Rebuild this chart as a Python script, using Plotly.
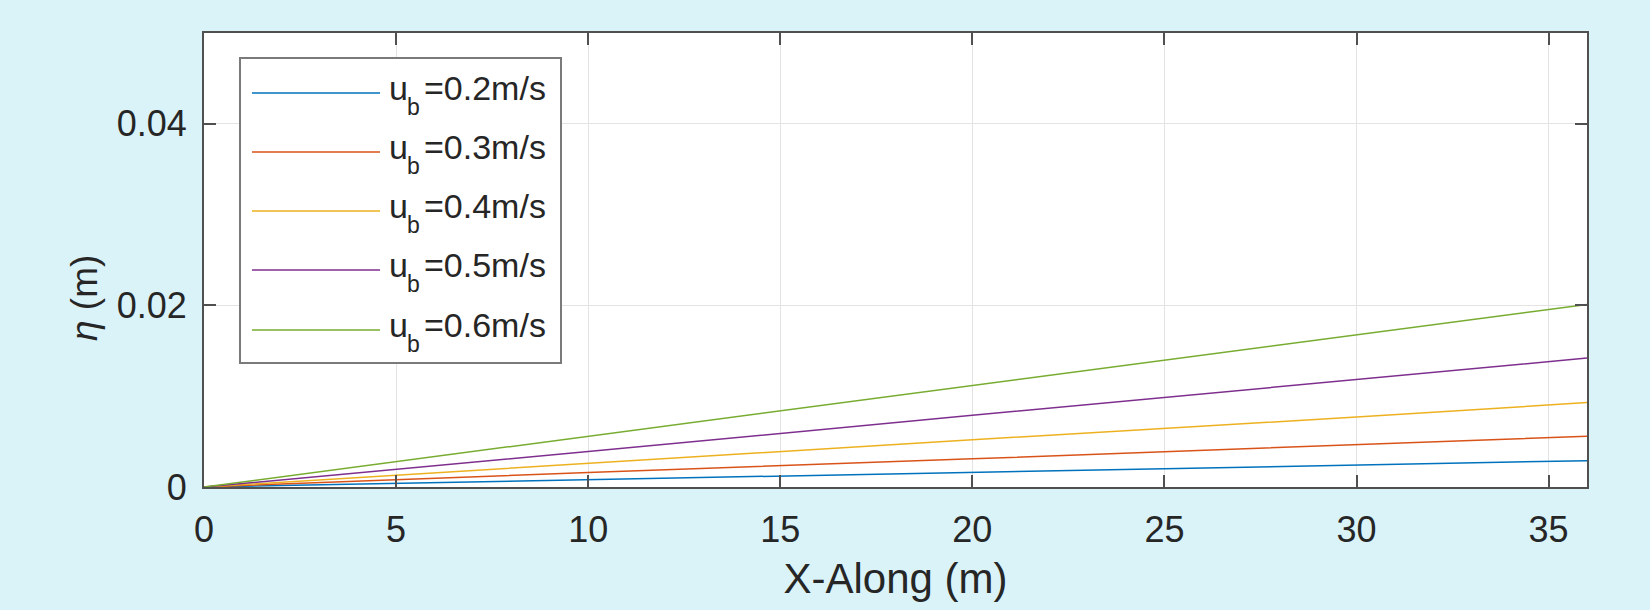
import plotly.graph_objects as go

# ---- data ----
x_along = [0, 10, 20, 30, 36]
eta_02 = [0, 0.0008, 0.0016, 0.0024, 0.0029]
eta_03 = [0, 0.0016, 0.0031, 0.0047, 0.0056]
eta_04 = [0, 0.0026, 0.0052, 0.0077, 0.0093]
eta_05 = [0, 0.0039, 0.0079, 0.0118, 0.0142]
eta_06 = [0, 0.0056, 0.0112, 0.0168, 0.0201]
speed_labels = ["=0.2m/s", "=0.3m/s", "=0.4m/s", "=0.5m/s", "=0.6m/s"]
series_values = [eta_02, eta_03, eta_04, eta_05, eta_06]
colors = ["#0072BD", "#D95319", "#EDB120", "#7E2F8E", "#77AC30"]
x_ticks = [0, 5, 10, 15, 20, 25, 30, 35]
y_ticks = [0, 0.02, 0.04]

W, H = 1650, 610
L, R, T, B = 204, 63, 33, 123
PW, PH = W - L - R, H - T - B
FONT = "Liberation Sans, Arial"
TXT = "#262626"


def px_x(p):
    return (p - L) / PW


def px_y(p):
    return (H - B - p) / PH


fig = go.Figure()
for lab, vals, c in zip(speed_labels, series_values, colors):
    fig.add_trace(go.Scatter(x=x_along, y=vals, mode="lines", name="u_b" + lab,
                             line=dict(color=c, width=1.5), showlegend=False))

axis_common = dict(showline=True, linecolor="#505050", linewidth=2, mirror="allticks",
                   ticks="inside", ticklen=12, tickwidth=2, tickcolor="#505050",
                   showgrid=True, gridcolor="#E3E3E3", gridwidth=1, zeroline=False,
                   tickfont=dict(family=FONT, size=36, color=TXT))

fig.update_layout(
    width=W, height=H,
    margin=dict(l=L, r=R, t=T, b=B),
    paper_bgcolor="#DAF3F8", plot_bgcolor="white",
    xaxis=dict(range=[0, 36], tickvals=x_ticks, ticklabelstandoff=10,
               title=dict(text="X-Along (m)", standoff=14,
                          font=dict(family=FONT, size=42, color=TXT)),
               **axis_common),
    yaxis=dict(range=[0, 0.05], tickvals=y_ticks, ticktext=["0", "0.02", "0.04"],
               ticklabelstandoff=8, **axis_common),
)

# y axis title
fig.add_annotation(xref="paper", yref="paper", x=px_x(84), y=px_y(298), text="<i>η</i> (m)",
                   textangle=-90, showarrow=False, xanchor="center", yanchor="middle",
                   font=dict(family=FONT, size=37, color=TXT))

# custom legend (MATLAB-style long line samples)
shapes = [dict(type="rect", xref="paper", yref="paper", x0=px_x(240), x1=px_x(561),
               y0=px_y(363), y1=px_y(58), line=dict(color="#7a7a7a", width=2),
               fillcolor="white", layer="above")]
row_y = [93, 152, 211, 270, 330]
for lab, c, yy in zip(speed_labels, colors, row_y):
    shapes.append(dict(type="line", xref="paper", yref="paper", x0=px_x(252), x1=px_x(380),
                       y0=px_y(yy), y1=px_y(yy), line=dict(color=c, width=1.5), layer="above"))
    fig.add_annotation(xref="paper", yref="paper", x=px_x(387), y=px_y(yy - 5), text="u",
                       showarrow=False, xanchor="left", yanchor="middle",
                       font=dict(family=FONT, size=34, color=TXT))
    fig.add_annotation(xref="paper", yref="paper", x=px_x(405), y=px_y(yy + 14), text="b",
                       showarrow=False, xanchor="left", yanchor="middle",
                       font=dict(family=FONT, size=23, color=TXT))
    fig.add_annotation(xref="paper", yref="paper", x=px_x(422), y=px_y(yy - 5), text=lab,
                       showarrow=False, xanchor="left", yanchor="middle",
                       font=dict(family=FONT, size=34, color=TXT))
fig.update_layout(shapes=shapes)

fig.write_html("out.html", config={"displayModeBar": False})

# remove the default page margin so the figure fills the window exactly
with open("out.html", "r", encoding="utf-8") as f:
    html = f.read()
html = html.replace("<body>", '<body style="margin:0;padding:0;overflow:hidden;background:#DAF3F8">', 1)
with open("out.html", "w", encoding="utf-8") as f:
    f.write(html)
